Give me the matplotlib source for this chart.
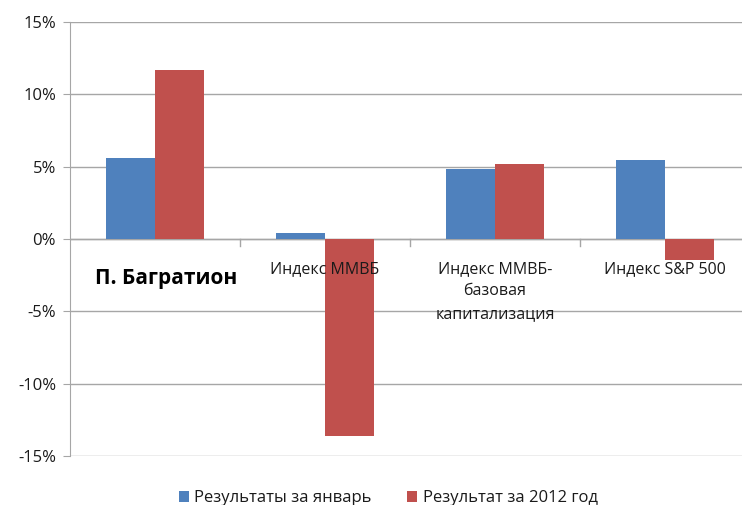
import matplotlib
matplotlib.use("Agg")
from matplotlib import pyplot as plt
from matplotlib.ticker import FuncFormatter
import numpy as np

plt.rcParams['font.family'] = ['Open Sans', 'DejaVu Sans']

categories = ["П. Багратион", "Индекс ММВБ", "Индекс ММВБ-\nбазовая\nкапитализация", "Индекс S&P 500"]
january = [5.6, 0.4, 4.85, 5.45]
year_2012 = [11.7, -13.65, 5.2, -1.45]
series_names = ["Результаты за январь", "Результат за 2012 год"]

blue = "#4F81BD"
red = "#C0504D"
grid_color = "#A6A6A6"
text_color = "#1a1a1a"

fig = plt.figure(figsize=(7.42, 5.05), dpi=100)
# plot area runs past the right edge of the picture, as in the reference
ax = fig.add_axes([70 / 742, 1 - 456 / 505, 680 / 742, 434 / 505])

x = np.arange(len(categories))
w = 0.29
b1 = ax.bar(x - w / 2, january, w, color=blue, label=series_names[0], zorder=3)
b2 = ax.bar(x + w / 2, year_2012, w, color=red, label=series_names[1], zorder=3)

ax.set_xlim(-0.5, len(categories) - 0.5)
ax.set_ylim(-15, 15)
ax.set_yticks(np.arange(-15, 16, 5))
ax.yaxis.set_major_formatter(FuncFormatter(lambda v, p: f"{v:.0f}%"))
ax.tick_params(axis='y', length=5, color=grid_color, labelsize=12, pad=5, labelcolor=text_color)
ax.grid(axis='y', color=grid_color, linewidth=1, zorder=0)

# category boundary ticks on the zero line
ax.set_xticks([])
ax.axhline(0, color=grid_color, linewidth=1, zorder=2)
for b in np.arange(0.5, len(categories) - 0.5, 1):
    ax.plot([b, b], [0, -0.45], color=grid_color, linewidth=1, zorder=2, clip_on=False)

for spine in ["top", "right", "bottom"]:
    ax.spines[spine].set_visible(False)
ax.spines["left"].set_color(grid_color)

for i, name in enumerate(categories):
    if i == 0:
        ax.text(i + 0.065, -2.0, name, ha='center', va='top', fontsize=15, fontweight='bold',
                color="black", zorder=4)
    else:
        ax.text(i, -1.5, name, ha='center', va='top', fontsize=11.5, color=text_color,
                linespacing=1.55, zorder=4)

fig.legend(handles=[b1, b2], loc='lower center', bbox_to_anchor=(0.523, -0.032), ncol=2,
           frameon=False, fontsize=12, handlelength=0.6, handleheight=0.6,
           handletextpad=0.35, columnspacing=2.1, labelcolor=text_color)

fig.savefig("out.png", dpi=100)
